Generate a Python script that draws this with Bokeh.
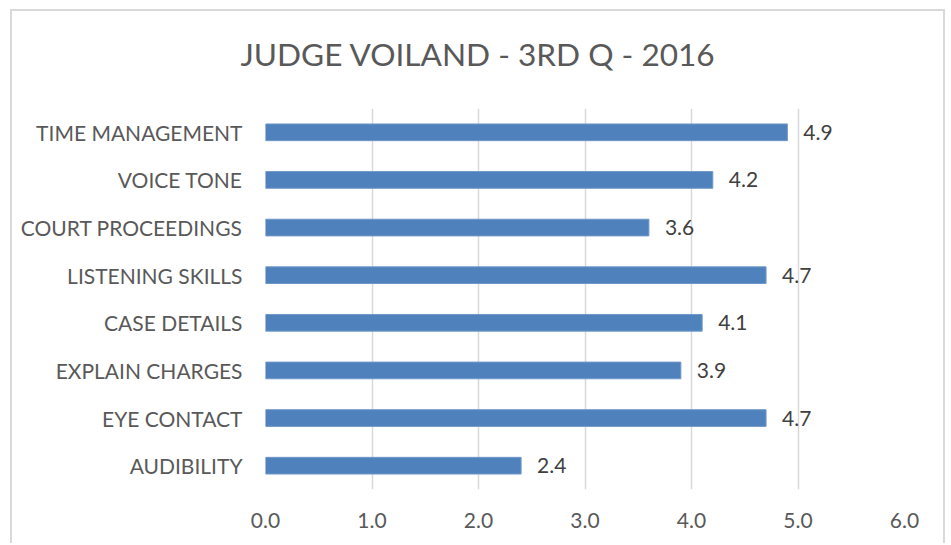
from bokeh.plotting import figure
from bokeh.models import FactorRange, Range1d, ColumnDataSource, LabelSet, Title
from bokeh.core.properties import value
from bokeh.embed import file_html
from bokeh.resources import INLINE

title_text = "JUDGE VOILAND - 3RD Q - 2016"
categories = ["TIME MANAGEMENT", "VOICE TONE", "COURT PROCEEDINGS", "LISTENING SKILLS",
              "CASE DETAILS", "EXPLAIN CHARGES", "EYE CONTACT", "AUDIBILITY"]
scores = [4.9, 4.2, 3.6, 4.7, 4.1, 3.9, 4.7, 2.4]
x_ticks = [0, 1, 2, 3, 4, 5, 6]

FONT = "Lato"

src = ColumnDataSource(dict(cat=categories, val=scores, lbl=["%.1f" % v for v in scores]))

p = figure(width=935, height=534,
           y_range=FactorRange(factors=list(reversed(categories))),
           x_range=Range1d(0, 6),
           output_backend="svg", toolbar_location=None,
           min_border_left=253, min_border_right=43,
           min_border_top=97, min_border_bottom=56)
p.styles = {"border-top": "2px solid #d9d9d9", "border-left": "2px solid #d9d9d9",
            "border-right": "2px solid #d9d9d9", "margin-left": "10px", "margin-top": "9px"}

p.hbar(y="cat", right="val", left=0, height=0.35, source=src,
       fill_color="#4F81BD", line_color="#6f97c9", line_width=1)

labels = LabelSet(x="val", y="cat", text="lbl", source=src, x_offset=16,
                  text_baseline="middle", text_align="left",
                  text_font=value(FONT), text_font_size="21px", text_color="#404040")
p.add_layout(labels)

# main title (outermost)
p.title.text = title_text
p.title.align = "left"
p.title.offset = -25
p.title.standoff = 39
p.title.vertical_align = "bottom"
p.title.text_font = FONT
p.title.text_font_size = "31.6px"
p.title.text_font_style = "normal"
p.title.text_color = "#595959"

# blank spacer between title and plot frame
spacer = Title(text=" ", text_font=FONT, text_font_size="10px", standoff=2)
p.add_layout(spacer, "above")

p.outline_line_color = None
p.background_fill_color = "white"
p.border_fill_color = "white"

p.ygrid.grid_line_color = None
p.xgrid.grid_line_color = "#d9d9d9"
p.xgrid.grid_line_width = 1.5
p.xaxis.ticker = x_ticks
p.xaxis.major_label_overrides = {t: "%.1f" % t for t in x_ticks}

for ax in (p.xaxis, p.yaxis):
    ax.axis_line_color = None
    ax.major_tick_line_color = None
    ax.minor_tick_line_color = None
    ax.major_tick_out = 0
    ax.major_tick_in = 0
    ax.major_label_text_font = FONT
    ax.major_label_text_font_size = "21px"
    ax.major_label_text_color = "#595959"
    ax.major_label_standoff = 23

open("out.html", "w").write(file_html(p, INLINE))
